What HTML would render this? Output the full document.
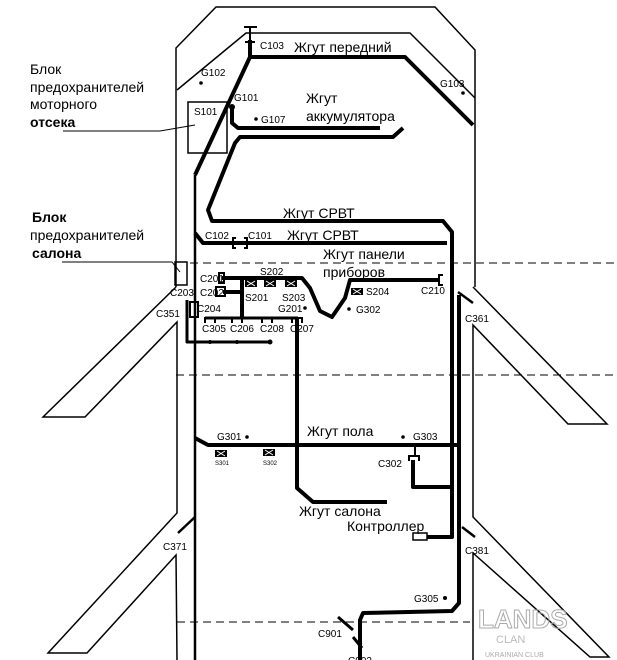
<!DOCTYPE html>
<html><head><meta charset="utf-8"><style>
html,body{margin:0;padding:0;background:#fff;width:617px;height:660px;overflow:hidden}
svg{display:block}
text{font-family:"Liberation Sans",sans-serif;fill:#000}
.s{font-size:10px}
.m{font-size:14px}
.l{font-size:14px}
</style></head><body>
<svg width="617" height="660" viewBox="0 0 617 660" xmlns="http://www.w3.org/2000/svg">
<g fill="none" stroke="#000" stroke-width="1.5">
<!-- body outline -->
<polyline points="176,287 176,48 216,7 435,7 475,50 475,287"/>
<polyline points="177,90 246,33 410,33 475,98"/>
<!-- left front fender -->
<polyline points="176,287 43,417 85,417 177,322 177,513 48,653 87,653 176,555 177,660"/>
<!-- right front fender -->
<polyline points="473,287 607,424 568,424 473,325 473,517 609,657 590,657 473,553 473,660"/>
<!-- fuse box салона -->
<rect x="175" y="262" width="12" height="23"/>
<!-- S101 -->
<rect x="188" y="102" width="39" height="51" fill="#fff"/>
<!-- leaders -->
<polyline points="63,131 160,131 195,125" stroke-width="1"/>
<polyline points="62,262 172,262 180,272" stroke-width="1"/>
</g>
<!-- dashed lines -->
<g stroke="#000" stroke-width="1" stroke-dasharray="8,5" fill="none">
<line x1="190" y1="263" x2="617" y2="263"/>
<line x1="176" y1="375" x2="617" y2="375"/>
<line x1="177" y1="622" x2="470" y2="622"/>
</g>
<g fill="none" stroke="#000" stroke-width="2.5">
<line x1="195" y1="175" x2="195" y2="660"/>
</g>
<!-- thick harnesses -->
<g fill="none" stroke="#000" stroke-width="4" stroke-linejoin="round">
<polyline points="473,125 405,57 250,57 195,175"/>
<line x1="250" y1="57" x2="250" y2="40"/>
<polyline points="232,107 232,123 238,128 380,128"/>
<polyline points="403,128 393,137 240,137 235,143 208,210 212,221 443,221 452,232 452,537 427,537"/>
<polyline points="195,233 203,243 447,243"/>
<polyline points="222,278 302,278 310,288 320,311 332,317 345,298 350,280 440,280"/>
<polyline points="223,292 242,292"/>
<polyline points="242,280 242,318"/>
<polyline points="187,300 187,342 270,342" stroke-width="3"/>
<polyline points="205,318 298,318" stroke-width="3"/>
<polyline points="297,318 297,488 313,502 387,502"/>
<polyline points="195,438 208,445 458,445"/>
<polyline points="413,460 413,487 450,487"/>
<polyline points="459,295 459,603 452,611 363,613 360,620 360,660"/>
<polyline points="458,292 473,303" stroke-width="2.5"/>
<polyline points="462,527 475,537" stroke-width="2.5"/>
<polyline points="195,517 178,533" stroke-width="2.5"/>
<polyline points="338,617 353,630" stroke-width="3"/>
<polyline points="353,637 362,648" stroke-width="3"/>
</g>
<g stroke="#000" stroke-width="2" fill="none">
<line x1="244" y1="27" x2="257" y2="27"/><line x1="250" y1="27" x2="250" y2="42"/><line x1="245" y1="42" x2="255" y2="42"/>
<path d="M236,238 h-3 v10 h3 M244,238 h3 v10 h-3"/>
<rect x="219" y="273" width="5" height="10"/>
<rect x="216" y="287" width="9" height="9"/>
<rect x="190" y="302" width="8" height="15"/>
<path d="M443,275 h-4 v10 h4"/>
<path d="M205,323 v-5 h10 v5 M232,323 v-5 h10 v5 M262,323 v-5 h10 v5 M292,323 v-5 h10 v5"/>
<line x1="415" y1="445" x2="415" y2="455"/>
<path d="M409,461 v-5 h10 v5"/>
<rect x="413" y="533" width="14" height="7" stroke-width="1.5"/>
</g>
<!-- dots -->
<g fill="#000">
<circle cx="232" cy="107" r="3"/>
<circle cx="201" cy="83" r="1.8"/>
<circle cx="463" cy="93" r="1.8"/>
<circle cx="256" cy="119" r="1.8"/>
<circle cx="210" cy="342" r="2"/><circle cx="237" cy="342" r="2"/><circle cx="270" cy="342" r="2.5"/>
<circle cx="305" cy="308" r="1.8"/><circle cx="349" cy="309" r="1.8"/>
<circle cx="247" cy="437" r="1.8"/><circle cx="403" cy="437" r="1.8"/>
<circle cx="445" cy="598" r="2"/>
<rect x="245" y="280" width="12" height="7"/><rect x="264" y="280" width="12" height="7"/><rect x="285" y="280" width="12" height="7"/>
<rect x="351" y="288" width="12" height="7"/>
<rect x="215" y="450" width="12" height="7"/><rect x="263" y="449" width="12" height="7"/>
</g>
<g stroke="#fff" stroke-width="1">
<path d="M247,281 l8,5 M247,286 l8,-5 M266,281 l8,5 M266,286 l8,-5 M287,281 l8,5 M287,286 l8,-5 M353,289 l8,5 M353,294 l8,-5 M217,451 l8,5 M217,456 l8,-5 M265,450 l8,5 M265,455 l8,-5"/>
</g>
<!-- labels -->
<text class="l" x="30" y="74">Блок</text>
<text class="l" x="30" y="92">предохранителей</text>
<text class="l" x="30" y="109">моторного</text>
<text class="l" x="30" y="127" font-weight="bold">отсека</text>
<text class="l" x="32" y="222" font-weight="bold">Блок</text>
<text class="l" x="30" y="240">предохранителей</text>
<text class="l" x="32" y="258" font-weight="bold">салона</text>
<text class="s" x="260" y="49">C103</text>
<text class="m" x="294" y="52">Жгут   передний</text>
<text class="s" x="201" y="76">G102</text>
<text class="s" x="440" y="87">G103</text>
<text class="s" x="194" y="115">S101</text>
<text class="s" x="234" y="101">G101</text>
<text class="s" x="261" y="123">G107</text>
<text class="m" x="306" y="103">Жгут</text>
<text class="m" x="306" y="121">аккумулятора</text>
<text class="m" x="283" y="218">Жгут  СРВТ</text>
<text class="s" x="205" y="239">C102</text>
<text class="s" x="248" y="239">C101</text>
<text class="m" x="287" y="240">Жгут  СРВТ</text>
<text class="m" x="323" y="259">Жгут   панели</text>
<text class="m" x="323" y="277">приборов</text>
<text class="s" x="260" y="275">S202</text>
<text class="s" x="200" y="282">C201</text>
<text class="s" x="200" y="296">C202</text>
<text class="s" x="170" y="296">C203</text>
<text class="s" x="197" y="312">C204</text>
<text class="s" x="156" y="317">C351</text>
<text class="s" x="245" y="301">S201</text>
<text class="s" x="282" y="301">S203</text>
<text class="s" x="278" y="312">G201</text>
<text class="s" x="366" y="295">S204</text>
<text class="s" x="356" y="313">G302</text>
<text class="s" x="421" y="294">C210</text>
<text class="s" x="202" y="332">C305</text>
<text class="s" x="230" y="332">C206</text>
<text class="s" x="260" y="332">C208</text>
<text class="s" x="290" y="332">C207</text>
<text class="s" x="465" y="322">C361</text>
<text class="s" x="217" y="440">G301</text>
<text class="m" x="307" y="436">Жгут   пола</text>
<text class="s" x="413" y="440">G303</text>
<text x="215" y="465" style="font-size:6px">S301</text>
<text x="263" y="465" style="font-size:6px">S302</text>
<text class="s" x="378" y="467">C302</text>
<text class="m" x="299" y="516">Жгут   салона</text>
<text class="m" x="347" y="531">Контроллер</text>
<text class="s" x="163" y="550">C371</text>
<text class="s" x="465" y="554">C381</text>
<text class="s" x="414" y="602">G305</text>
<text class="s" x="318" y="637">C901</text>
<text class="s" x="348" y="664">C902</text>
<text x="478" y="628" style="font-size:26px;font-weight:bold;fill:none;stroke:#aaa;stroke-width:1">LANDS</text>
<text x="496" y="643" style="font-size:11px;fill:#bbb">CLAN</text>
<text x="485" y="657" style="font-size:7px;fill:#aaa">UKRAINIAN CLUB</text>
</svg>
</body></html>
